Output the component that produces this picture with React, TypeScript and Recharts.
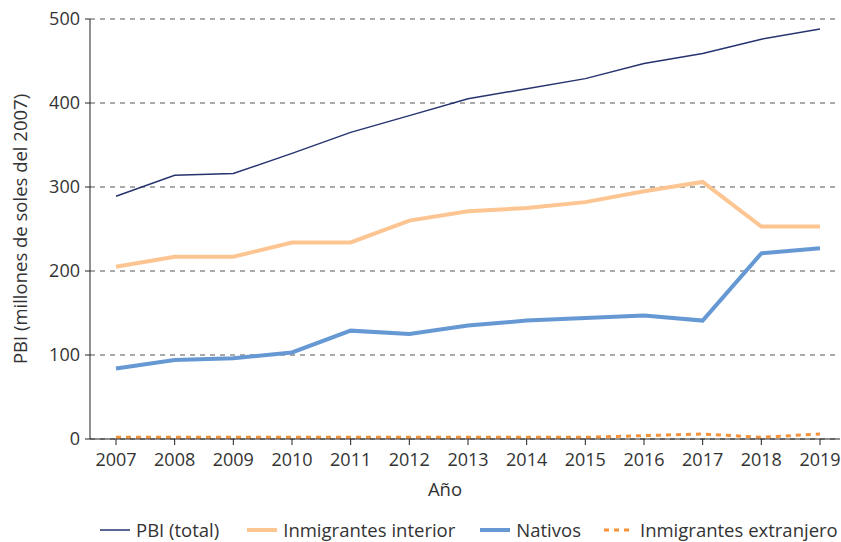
import { LineChart, Line, XAxis, YAxis, CartesianGrid, Legend } from 'recharts';

const years = ['2007', '2008', '2009', '2010', '2011', '2012', '2013', '2014', '2015', '2016', '2017', '2018', '2019'];
const pbiTotal = [289, 314, 316, 340, 365, 385, 405, 417, 429, 447, 459, 476, 488];
const inmigrantesInterior = [205, 217, 217, 234, 234, 260, 271, 275, 282, 295, 306, 253, 253];
const nativos = [84, 94, 96, 103, 129, 125, 135, 141, 144, 147, 141, 221, 227];
const inmigrantesExtranjero = [2, 2, 2, 2, 2, 2, 2, 2, 2, 4, 6, 2, 6];
const yTicks = [0, 100, 200, 300, 400, 500];

const chartData = years.map((year, i) => ({
  year,
  total: pbiTotal[i],
  interior: inmigrantesInterior[i],
  nativos: nativos[i],
  extranjero: inmigrantesExtranjero[i],
}));

const FONT = '"Open Sans", Lato, sans-serif';
const TEXT = '#333333';

const legendItems = [
  { name: 'PBI (total)', color: '#26336f', width: 1.5, dash: undefined, gap: 0 },
  { name: 'Inmigrantes interior', color: '#fdc591', width: 4, dash: undefined, gap: 28 },
  { name: 'Nativos', color: '#6699d4', width: 4, dash: undefined, gap: 25 },
  { name: 'Inmigrantes extranjero', color: '#f7923a', width: 3, dash: '5 5', gap: 23 },
];

function ChartLegend() {
  return (
    <div style={{ display: 'flex', alignItems: 'center', height: 24, lineHeight: 1, paddingLeft: 100, fontFamily: FONT, fontSize: 18.5, color: TEXT, whiteSpace: 'nowrap' }}>
      {legendItems.map((item) => (
        <div key={item.name} style={{ display: 'flex', alignItems: 'center', marginLeft: item.gap }}>
          <svg width={30} height={10}>
            <line x1={0} y1={5} x2={30} y2={5} stroke={item.color} strokeWidth={item.width} strokeDasharray={item.dash} />
          </svg>
          <span style={{ marginLeft: 6 }}>{item.name}</span>
        </div>
      ))}
    </div>
  );
}

export default function App() {
  return (
    <div style={{ position: 'absolute', left: 0, top: 0 }}>
      <LineChart width={841} height={542} data={chartData} margin={{ top: 19, right: 1, left: 0, bottom: 0 }}>
        <CartesianGrid vertical={false} stroke="#555" strokeDasharray="5 5" />
        <XAxis
          dataKey="year"
          padding={{ left: 26, right: 20 }}
          stroke="#222"
          tickSize={6}
          tickMargin={8}
          height={79}
          tick={{ fill: TEXT, fontSize: 18, fontFamily: FONT }}
          label={{ value: 'Año', position: 'insideBottom', offset: 22, dx: -20, fill: TEXT, fontSize: 18.5, fontFamily: FONT }}
        />
        <YAxis
          domain={[0, 500]}
          ticks={yTicks}
          stroke="#222"
          width={90}
          tickSize={5}
          tickMargin={5}
          tick={{ fill: TEXT, fontSize: 18, fontFamily: FONT }}
          label={{ value: 'PBI (millones de soles del 2007)', angle: -90, position: 'insideLeft', offset: 20, style: { textAnchor: 'middle' }, fill: TEXT, fontSize: 18.5, fontFamily: FONT }}
        />
        <Legend verticalAlign="bottom" height={24} content={() => <ChartLegend />} />
        <Line type="linear" dataKey="total" name="PBI (total)" stroke="#26336f" strokeWidth={1.5} dot={false} isAnimationActive={false} />
        <Line type="linear" dataKey="interior" name="Inmigrantes interior" stroke="#fdc591" strokeWidth={4} dot={false} isAnimationActive={false} />
        <Line type="linear" dataKey="nativos" name="Nativos" stroke="#6699d4" strokeWidth={4} dot={false} isAnimationActive={false} />
        <Line type="linear" dataKey="extranjero" name="Inmigrantes extranjero" stroke="#f7923a" strokeWidth={3} strokeDasharray="5 5" dot={false} isAnimationActive={false} />
      </LineChart>
    </div>
  );
}
